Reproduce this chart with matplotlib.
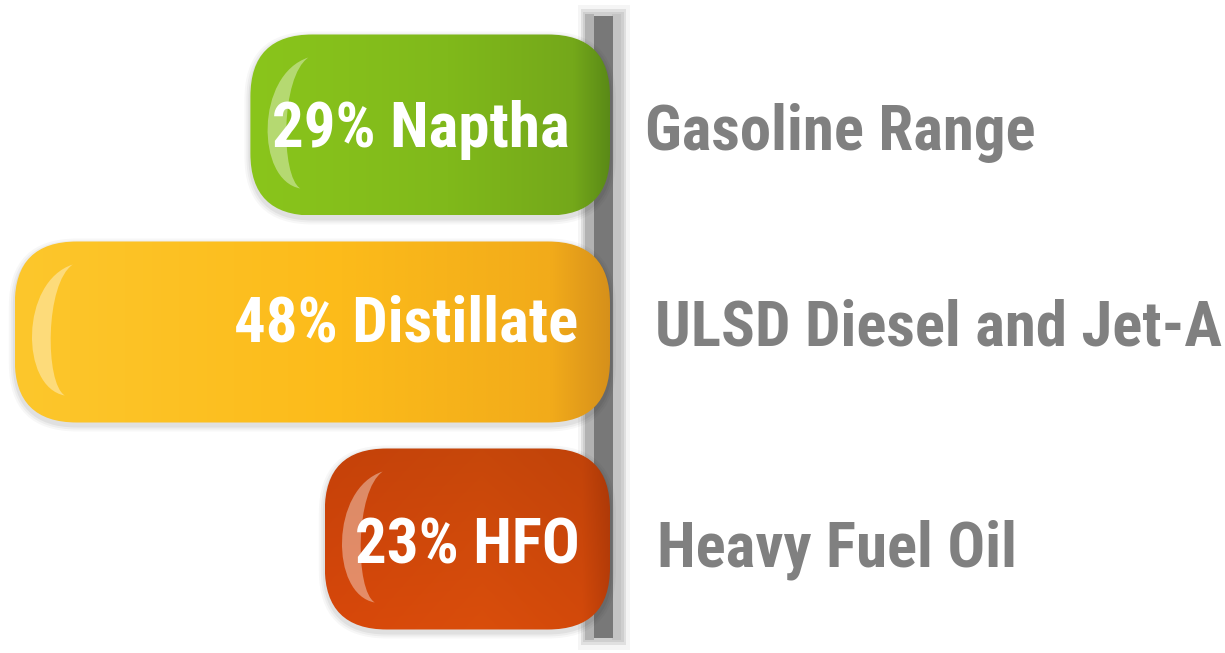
import matplotlib
matplotlib.use('Agg')
import matplotlib.pyplot as plt
import numpy as np
from matplotlib.patches import FancyBboxPatch, PathPatch, Rectangle
from matplotlib.path import Path
from matplotlib.colors import to_rgb
from matplotlib import font_manager

# ---------------- data ----------------
categories = ['Naptha', 'Distillate', 'HFO']
shares = [29, 48, 23]
bar_labels = ['29% Naptha', '48% Distillate', '23% HFO']
range_labels = ['Gasoline Range', 'ULSD Diesel and Jet-A', 'Heavy Fuel Oil']

# ---------------- style ----------------
grad_colors = [
    ['#8AC51C', '#80B91B', '#74A81A', '#5A8A17'],
    ['#FDC72C', '#FCBB1A', '#F2AB1A', '#D6901A'],
    ['#CD440A', '#CF4A0B', '#C9460A', '#B03A08'],
]
vert_shade = [(1.0, 1.0), (1.0, 1.0), (0.96, 1.05)]
label_gray = '#808080'
# small per-row text nudges in pixels (style only)
text_dy_px = [0, -12, 2]
inner_dx_px = [-5, 3, 5]
outer_dx_px = [-7, 3, 5]

W, H, DPI = 1225, 653, 100
PX = 12.4            # pixels per percentage point
X_ZERO_PX = 610      # pixel column of the bar base
ROW_PX = 207         # pixel spacing between rows
FIRST_PX = 125       # pixel row of first bar centre
BAR_H_PX = 181
RADIUS_PX = 62

# pick a bold narrow sans (Arial Narrow look-alike)
cands = ['Liberation Sans Narrow', 'Arial Narrow', 'Roboto Condensed',
         'Archivo Narrow', 'Barlow Semi Condensed', 'Asap Condensed',
         'Barlow Condensed']
bold_fams = {f.name for f in font_manager.fontManager.ttflist
             if (f.weight if isinstance(f.weight, int) else 700) >= 700}
font_kw = dict(family='DejaVu Sans', stretch='condensed')
for c in cands:
    if c in bold_fams:
        font_kw = dict(family=c)
        break

fig = plt.figure(figsize=(W / DPI, H / DPI), dpi=DPI)
ax = fig.add_axes([0, 0, 1, 1])
xlim = (-X_ZERO_PX / PX, (W - X_ZERO_PX) / PX)
ylim = ((H - FIRST_PX) / ROW_PX, -FIRST_PX / ROW_PX)
ax.set_xlim(*xlim)
ax.set_ylim(*ylim)
ax.axis('off')

ux = 1.0 / PX       # data-x per pixel
uy = 1.0 / ROW_PX   # data-y per pixel
bar_h = BAR_H_PX * uy
m_aspect = uy / ux

# ---------------- vertical axis post ----------------
def vrect(px0, px1, py0, py1, color, z):
    ax.add_patch(Rectangle(((px0 - X_ZERO_PX) * ux, (py0 - FIRST_PX) * uy),
                           (px1 - px0) * ux, (py1 - py0) * uy,
                           facecolor=color, edgecolor='none', zorder=z))

vrect(578, 630, 5, 650, '#F5F5F5', 1)
vrect(581, 626, 9, 645, '#E0E0E0', 1.05)
vrect(583, 624, 12, 642, '#CFCFCF', 1.1)
vrect(585, 594, 14, 640, '#B2B2B2', 1.2)
vrect(612, 621, 14, 640, '#C4C4C4', 1.2)
vrect(594, 613, 16, 638, '#787878', 1.3)

# ---------------- bars ----------------
texts = []
for i, (val, cols) in enumerate(zip(shares, grad_colors)):
    x0, x1 = -val, 0.0
    y0 = i - bar_h / 2
    # soft shadow
    for k, a in [(6, 0.03), (4, 0.04), (2, 0.05)]:
        sh = FancyBboxPatch((x0 - k * ux, y0 - k * uy + 3 * uy), (x1 - x0) + 2 * k * ux,
                            bar_h + 2 * k * uy,
                            boxstyle=f"round,pad=0,rounding_size={(RADIUS_PX + k) * ux}",
                            mutation_aspect=m_aspect, facecolor='black', alpha=a,
                            edgecolor='none', zorder=1.5)
        ax.add_patch(sh)
    patch = FancyBboxPatch((x0, y0), x1 - x0, bar_h,
                           boxstyle=f"round,pad=0,rounding_size={RADIUS_PX * ux}",
                           mutation_aspect=m_aspect, facecolor='none',
                           edgecolor='none', zorder=2)
    ax.add_patch(patch)
    # gradient image
    nx, ny = 300, 60
    t = np.linspace(0, 1, nx)
    stops = np.array([0.0, 0.55, 0.9, 1.0])
    rgb = np.array([to_rgb(c) for c in cols])
    row = np.stack([np.interp(t, stops, rgb[:, c]) for c in range(3)], axis=-1)
    v0, v1 = vert_shade[i]
    vf = np.linspace(v0, v1, ny)[:, None, None]
    img = np.clip(row[None, :, :] * vf, 0, 1)
    im = ax.imshow(img, extent=(x0, x1, y0 + bar_h, y0), origin='upper',
                   aspect='auto', zorder=2, interpolation='bilinear')
    im.set_clip_path(patch)
    # highlight band on the left end (offsets in pixels from the bar's corner)
    def P(dx, dy):
        return (x0 + dx * ux, y0 + dy * uy)
    verts = [P(58, 23), P(5, 40), P(5, 146), P(50, 154),
             P(30, 142), P(30, 42), P(58, 23), P(58, 23)]
    codes = [Path.MOVETO, Path.CURVE4, Path.CURVE4, Path.CURVE4,
             Path.CURVE4, Path.CURVE4, Path.CURVE4, Path.CLOSEPOLY]
    hl = PathPatch(Path(verts, codes), facecolor='white', alpha=0.38,
                   edgecolor='none', zorder=3)
    ax.add_patch(hl)
    hl.set_clip_path(patch)
    # labels
    ty = i + (22 + text_dy_px[i]) * uy
    t1 = ax.text((-35 + inner_dx_px[i]) * ux, ty, bar_labels[i], ha='right',
                 va='baseline', color='white', fontsize=46, fontweight='bold',
                 zorder=5, **font_kw)
    t2 = ax.text((42 + outer_dx_px[i]) * ux, ty + 3 * uy, range_labels[i], ha='left',
                 va='baseline', color=label_gray, fontsize=46, fontweight='bold',
                 zorder=5, **font_kw)
    texts += [t1, t2]

# fit the font size so the text widths match the reference widths
target_w = [297, 395, 336, 565, 228, 361]
fig.canvas.draw()
r = fig.canvas.get_renderer()
meas = [t.get_window_extent(r).width for t in texts]
scale = sum(target_w) / sum(meas)
for t in texts:
    t.set_fontsize(46 * scale)

ax.set_xlim(*xlim)
ax.set_ylim(*ylim)
fig.savefig('out.png', dpi=DPI, facecolor='white')
